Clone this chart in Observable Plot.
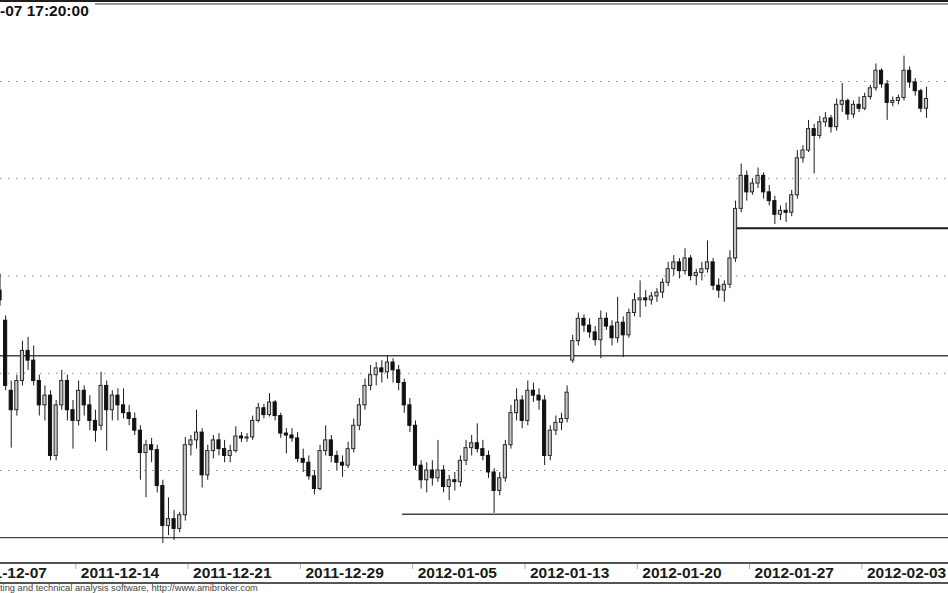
<!DOCTYPE html>
<html><head><meta charset="utf-8">
<script src="https://cdn.jsdelivr.net/npm/d3@7"></script>
<script src="https://cdn.jsdelivr.net/npm/@observablehq/plot@0.6"></script>
<style>
html,body{margin:0;padding:0;background:#fff;}
#wrap{position:relative;width:948px;height:593px;overflow:hidden;background:#fff;font-family:"Liberation Sans",Arial,sans-serif;}
#chart{position:absolute;left:0;top:0;}
#top1{position:absolute;left:0;top:0;width:948px;height:2px;background:#1e1e1e;}
#top2{position:absolute;left:95px;top:3px;width:853px;height:2px;background:#9a9a9a;}
#title{position:absolute;left:0;top:2px;height:18px;width:95px;background:#fff;font-weight:bold;font-size:15.5px;line-height:18px;color:#111;white-space:nowrap;}
.band{position:absolute;left:0;width:948px;height:2px;background:#555;}
#footer{position:absolute;left:0;top:584px;font-size:9.3px;line-height:9px;color:#444;white-space:nowrap;}
</style></head>
<body>
<div id="wrap">
  <div id="chart"></div>
  <div id="top1"></div>
  <div id="top2"></div>
  <div id="title">-07 17:20:00</div>
  <div class="band" style="top:562px"></div>
  <div class="band" style="top:582px"></div>
  <div id="footer">ting and technical analysis software, http://www.amibroker.com</div>
</div>
<script>
// trading days (index 0 = 2011-12-07); bars start on 2011-12-08, 4 bars per day
const dates = ["2011-12-07","2011-12-08","2011-12-09","2011-12-12","2011-12-13","2011-12-14","2011-12-15","2011-12-16","2011-12-19","2011-12-20","2011-12-21","2011-12-22","2011-12-23","2011-12-27","2011-12-28","2011-12-29","2011-12-30","2012-01-02","2012-01-03","2012-01-04","2012-01-05","2012-01-09","2012-01-10","2012-01-11","2012-01-12","2012-01-13","2012-01-16","2012-01-17","2012-01-18","2012-01-19","2012-01-20","2012-01-23","2012-01-24","2012-01-25","2012-01-26","2012-01-27","2012-01-30","2012-01-31","2012-02-01","2012-02-02","2012-02-03","2012-02-06","2012-02-07"];
const tickLabels = ["2011-12-07","2011-12-14","2011-12-21","2011-12-29","2012-01-05","2012-01-13","2012-01-20","2012-01-27","2012-02-03"];
const gridLevels = [2000, 2100, 2200, 2300, 2400];
const levelPrices = [2118, 1931, 1955];   // thin drawn lines
const levelFrom   = [0, 0, 19.55];        // trading-day offset where each line begins
const strongLevel = 2249;                 // heavier drawn line
const strongFrom  = 34.37;

const open = [
2175,2180,2185,2154, 2082,2062,2092,2123, 2113,2092,2067,2077, 2015,2067,2092,2062,
2051,2082,2067,2051, 2046,2087,2062,2077, 2067,2059,2053,2041, 2018,2026,2021,1984,
1943,1950,1940,1954, 2026,2031,2039,1995, 2020,2031,2022,2015, 2020,2035,2033,2034,
2051,2064,2057,2070, 2056,2038,2036,2033, 2012,2008,1994,1981, 2020,2031,2015,2008,
2005,2022,2046,2067, 2087,2098,2105,2101, 2111,2103,2090,2067, 2046,2005,1990,2000,
1992,2000,1983,1990, 1988,2010,2023,2028, 2022,2015,1998,1979, 1992,2026,2059,2072,
2051,2082,2077,2072, 2015,2041,2049,2053, 2113,2133,2156,2149, 2142,2134,2156,2148,
2136,2152,2139,2162, 2175,2177,2175,2179, 2183,2193,2207,2214, 2205,2218,2200,2203,
2207,2214,2190,2185, 2191,2218,2269,2303, 2286,2295,2303,2286, 2277,2263,2267,2265,
2283,2321,2329,2351, 2344,2358,2362,2353, 2376,2380,2366,2376, 2372,2384,2393,2411,
2397,2378,2380,2383, 2411,2399,2390,2372];
const high = [
2185,2195,2202,2159, 2092,2098,2133,2137, 2128,2098,2087,2082, 2072,2103,2098,2072,
2092,2087,2077,2062, 2101,2092,2082,2084, 2084,2067,2059,2046, 2031,2033,2026,1990,
1972,1959,1957,2034, 2036,2062,2043,2026, 2036,2038,2031,2026, 2045,2039,2038,2056,
2069,2068,2079,2072, 2059,2043,2043,2039, 2022,2015,2000,2026, 2046,2036,2020,2015,
2029,2053,2074,2094, 2108,2111,2113,2118, 2115,2108,2094,2074, 2051,2010,2008,2010,
2031,2005,1995,1998, 2015,2031,2036,2048, 2031,2020,2002,1998, 2031,2067,2084,2077,
2092,2090,2084,2077, 2046,2056,2059,2087, 2139,2162,2160,2156, 2148,2164,2162,2154,
2178,2158,2166,2182, 2195,2185,2183,2187, 2197,2214,2221,2218, 2228,2221,2207,2214,
2236,2218,2197,2195, 2226,2277,2315,2308, 2300,2311,2306,2293, 2282,2272,2275,2288,
2329,2334,2360,2356, 2364,2368,2365,2382, 2398,2382,2380,2384, 2388,2396,2418,2413,
2401,2384,2386,2426, 2415,2403,2392,2394];
const low = [
2164,2175,2169,2082, 2023,2056,2087,2103, 2087,2056,2051,2010, 2010,2062,2051,2022,
2046,2056,2041,2029, 2041,2020,2051,2051, 2053,2046,2036,1990, 1972,2008,1977,1925,
1933,1928,1936,1948, 2015,2022,1982,1990, 2012,2015,2008,2008, 2018,2029,2029,2031,
2049,2053,2055,2051, 2033,2017,2029,2008, 1998,1990,1975,1979, 2015,2008,2000,1993,
2002,2018,2041,2062, 2082,2087,2090,2094, 2090,2082,2059,2039, 2000,1981,1977,1984,
1988,1977,1969,1979, 1983,2005,2015,2018, 2010,1992,1956,1974, 1988,2022,2051,2043,
2046,2070,2062,2005, 2010,2036,2041,2049, 2110,2128,2142,2136, 2128,2115,2144,2128,
2131,2116,2136,2158, 2157,2168,2170,2173, 2177,2189,2200,2197, 2201,2195,2190,2195,
2203,2185,2177,2173, 2187,2214,2265,2277, 2283,2290,2279,2272, 2253,2257,2255,2261,
2279,2316,2327,2305, 2341,2353,2347,2349, 2368,2360,2362,2368, 2370,2381,2390,2393,
2360,2374,2376,2380, 2393,2385,2368,2362];
const close = [
2180,2190,2175,2087, 2062,2092,2123,2113, 2092,2067,2077,2015, 2067,2092,2062,2051,
2082,2067,2051,2041, 2087,2062,2077,2067, 2059,2053,2041,2018, 2026,2021,1984,1943,
1950,1940,1954,2026, 2031,2039,1995,2020, 2031,2022,2015,2020, 2035,2033,2034,2051,
2064,2057,2070,2056, 2038,2036,2033,2012, 2008,1994,1981,2020, 2031,2015,2008,2005,
2022,2046,2067,2087, 2098,2105,2101,2111, 2103,2090,2067,2046, 2005,1990,2000,1992,
2000,1983,1990,1988, 2010,2023,2028,2022, 2015,1998,1979,1992, 2026,2059,2072,2051,
2082,2077,2072,2015, 2041,2049,2053,2080, 2133,2156,2149,2142, 2134,2156,2148,2136,
2152,2139,2162,2175, 2177,2175,2179,2183, 2193,2207,2214,2205, 2218,2200,2203,2207,
2214,2190,2185,2191, 2218,2269,2303,2286, 2295,2303,2286,2277, 2263,2267,2265,2283,
2321,2329,2351,2344, 2358,2362,2353,2376, 2380,2366,2376,2372, 2384,2393,2411,2397,
2378,2380,2383,2411, 2399,2390,2372,2382];

const barsPerDay = 4;
const bars = close.map((c, i) => ({
  t: 1 + Math.floor(i / barsPerDay) + ((i % barsPerDay) + 0.5) / barsPerDay,
  open: open[i], high: high[i], low: low[i], close: c
}));
const up = bars.filter(d => d.close >= d.open);
const down = bars.filter(d => d.close < d.open);
const lineEnd = dates.length + 2;
const levels = levelPrices.map((p, i) => ({price: p, from: levelFrom[i], to: lineEnd}));
const strong = [{price: strongLevel, from: strongFrom, to: lineEnd}];
const tickDays = tickLabels.map(s => dates.indexOf(s));

const view = [1.647, 43.856];       // visible span in trading days
const priceView = [1904.4, 2477.1]; // visible price span
const bw = 0.07;

const font = "'Liberation Sans', Arial, sans-serif";
const chart = Plot.plot({
  width: 948, height: 585,
  marginTop: 6, marginBottom: 22, marginLeft: 0, marginRight: 0,
  x: {type: "linear", domain: view},
  y: {domain: priceView, axis: null},
  style: {background: "transparent", fontFamily: font, overflow: "hidden"},
  marks: [
    Plot.ruleY(gridLevels, {stroke: "#8e8e8e", strokeWidth: 1, strokeDasharray: "1.5,6.5"}),
    Plot.ruleY(levels, {y: "price", x1: "from", x2: "to", stroke: "#454545", strokeWidth: 1.4, clip: true}),
    Plot.ruleY(strong, {y: "price", x1: "from", x2: "to", stroke: "#1a1a1a", strokeWidth: 2, clip: true}),
    Plot.ruleX(bars, {x: "t", y1: "low", y2: "high", stroke: "#1c1c1c", strokeWidth: 1, clip: true}),
    Plot.rect(up, {x1: d => d.t - bw, x2: d => d.t + bw, y1: "open", y2: "close", fill: "#c8c8c8", stroke: "#2a2a2a", strokeWidth: 1, clip: true}),
    Plot.rect(down, {x1: d => d.t - bw, x2: d => d.t + bw, y1: "open", y2: "close", fill: "#111111", stroke: "#111111", strokeWidth: 1, clip: true}),
    Plot.axisX(tickDays, {tickSize: 6, stroke: "#b0b0b0", tickFormat: () => "", label: null}),
    Plot.axisX(tickDays, {tickSize: 0, tickPadding: 3, textAnchor: "start", dx: 5, fontSize: 15.5, fontWeight: "bold", fill: "#1a1a1a", tickFormat: d => dates[d], label: null})
  ]
});
document.getElementById("chart").appendChild(chart);
</script>
</body></html>
